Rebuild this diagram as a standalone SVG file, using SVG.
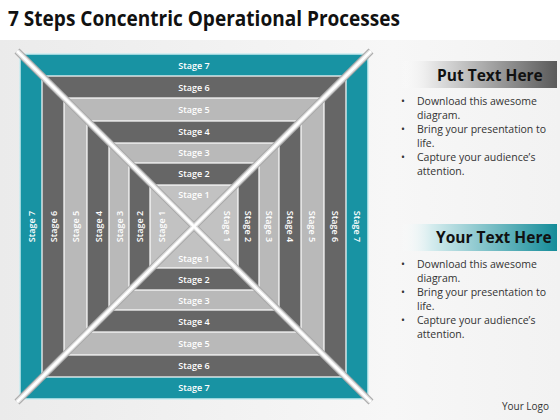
<svg xmlns="http://www.w3.org/2000/svg" width="560" height="420" viewBox="0 0 560 420">
<defs>
<linearGradient id="bg" x1="0" y1="0" x2="1" y2="0">
<stop offset="0" stop-color="#ebebeb"/>
<stop offset="0.7" stop-color="#f7f7f7"/>
<stop offset="1" stop-color="#f2f2f2"/>
</linearGradient>
<linearGradient id="grayBar" x1="0" y1="0" x2="1" y2="0">
<stop offset="0" stop-color="#ffffff" stop-opacity="0"/>
<stop offset="0.2" stop-color="#e6e6e6"/>
<stop offset="1" stop-color="#5a5a5a"/>
</linearGradient>
<linearGradient id="tealBar" x1="0" y1="0" x2="1" y2="0">
<stop offset="0" stop-color="#ffffff" stop-opacity="0"/>
<stop offset="0.2" stop-color="#d5ecee"/>
<stop offset="1" stop-color="#148c99"/>
</linearGradient>
<style>
.b{stroke:#ffffff;stroke-width:1.2}
.t7{fill:#1893a3;stroke:#c9ecf0;stroke-width:1.5}
.dk{fill:#666666}
.lt{fill:#b9b9b9}
.s1{fill:#c2c2c2}
.lb{font-family:"Open Sans","Liberation Sans",sans-serif;font-size:9px;font-weight:600;fill:#ffffff;text-anchor:middle;dominant-baseline:central}
.hd{font-family:"Open Sans","Liberation Sans",sans-serif;font-size:15.5px;font-weight:700;fill:#111111}
.tx{font-family:"Open Sans","Liberation Sans",sans-serif;font-size:10.5px;fill:#333333}
.dg1{stroke:#a8a8a8;stroke-width:7;stroke-linecap:butt}
.dg2{stroke:#dedede;stroke-width:5}
.dg3{stroke:#ffffff;stroke-width:2.5}
</style>
</defs>
<rect x="0" y="0" width="560" height="420" fill="#ffffff"/>
<rect x="0" y="40" width="560" height="380" fill="url(#bg)"/>
<text x="8" y="26" font-family="'Open Sans','Liberation Sans',sans-serif" font-size="21" font-weight="700" fill="#111111" textLength="392" lengthAdjust="spacingAndGlyphs">7 Steps Concentric Operational Processes</text>

<g id="stage7">
<rect class="t7" x="20" y="54" width="348" height="345"/>
<text class="lb" x="194" y="65">Stage 7</text>
<text class="lb" x="194" y="387.5">Stage 7</text>
<text class="lb" transform="translate(31,226.5) rotate(-90)">Stage 7</text>
<text class="lb" transform="translate(357,226.5) rotate(90)">Stage 7</text>
</g>
<g id="stage6">
<rect class="dk b" x="42" y="76" width="304" height="301"/>
<text class="lb" x="194" y="87">Stage 6</text>
<text class="lb" x="194" y="365.5">Stage 6</text>
<text class="lb" transform="translate(53,226.5) rotate(-90)">Stage 6</text>
<text class="lb" transform="translate(335,226.5) rotate(90)">Stage 6</text>
</g>
<g id="stage5">
<rect class="lt b" x="64" y="98" width="260" height="257"/>
<text class="lb" x="194" y="109.5">Stage 5</text>
<text class="lb" x="194" y="343">Stage 5</text>
<text class="lb" transform="translate(75.5,226.5) rotate(-90)">Stage 5</text>
<text class="lb" transform="translate(312.5,226.5) rotate(90)">Stage 5</text>
</g>
<g id="stage4">
<rect class="dk b" x="87" y="121" width="214" height="211"/>
<text class="lb" x="194" y="131.5">Stage 4</text>
<text class="lb" x="194" y="321">Stage 4</text>
<text class="lb" transform="translate(98,226.5) rotate(-90)">Stage 4</text>
<text class="lb" transform="translate(290,226.5) rotate(90)">Stage 4</text>
</g>
<g id="stage3">
<rect class="lt b" x="109" y="143" width="170" height="167"/>
<text class="lb" x="194" y="152.5">Stage 3</text>
<text class="lb" x="194" y="300">Stage 3</text>
<text class="lb" transform="translate(119,226.5) rotate(-90)">Stage 3</text>
<text class="lb" transform="translate(269,226.5) rotate(90)">Stage 3</text>
</g>
<g id="stage2">
<rect class="dk b" x="129" y="163" width="130" height="127"/>
<text class="lb" x="194" y="173.5">Stage 2</text>
<text class="lb" x="194" y="279.5">Stage 2</text>
<text class="lb" transform="translate(139.5,226.5) rotate(-90)">Stage 2</text>
<text class="lb" transform="translate(248,226.5) rotate(90)">Stage 2</text>
</g>
<g id="stage1">
<rect class="s1 b" x="150" y="185" width="88" height="83"/>
<text class="lb" x="194" y="194.5">Stage 1</text>
<text class="lb" x="194" y="258">Stage 1</text>
<text class="lb" transform="translate(161,226.5) rotate(-90)">Stage 1</text>
<text class="lb" transform="translate(227,226.5) rotate(90)">Stage 1</text>
</g>

<g id="connectors">
<line class="dg1" x1="17" y1="51" x2="371" y2="402"/>
<line class="dg1" x1="371" y1="51" x2="17" y2="402"/>
<line class="dg2" x1="17" y1="51" x2="371" y2="402"/>
<line class="dg2" x1="371" y1="51" x2="17" y2="402"/>
<line class="dg3" x1="17" y1="51" x2="371" y2="402"/>
<line class="dg3" x1="371" y1="51" x2="17" y2="402"/>
</g>

<g id="panel1">
<rect x="400" y="61" width="157" height="27" fill="url(#grayBar)"/>
<text class="hd" x="437" y="81">Put Text Here</text>
<text class="tx" x="401" y="105">•</text><text class="tx" x="417" y="105">Download this awesome</text>
<text class="tx" x="417" y="119">diagram.</text>
<text class="tx" x="401" y="133">•</text><text class="tx" x="417" y="133">Bring your presentation  to</text>
<text class="tx" x="417" y="147">life.</text>
<text class="tx" x="401" y="161">•</text><text class="tx" x="417" y="161">Capture your audience’s</text>
<text class="tx" x="417" y="175">attention.</text>
</g>
<g id="panel2">
<rect x="400" y="224" width="157" height="27" fill="url(#tealBar)"/>
<text class="hd" x="436" y="243">Your Text Here</text>
<text class="tx" x="401" y="268">•</text><text class="tx" x="417" y="268">Download this awesome</text>
<text class="tx" x="417" y="282">diagram.</text>
<text class="tx" x="401" y="296">•</text><text class="tx" x="417" y="296">Bring your presentation  to</text>
<text class="tx" x="417" y="310">life.</text>
<text class="tx" x="401" y="324">•</text><text class="tx" x="417" y="324">Capture your audience’s</text>
<text class="tx" x="417" y="338">attention.</text>
</g>
<text x="549" y="410" text-anchor="end" font-family="'Open Sans','Liberation Sans',sans-serif" font-size="10" fill="#333333">Your Logo</text>
</svg>
